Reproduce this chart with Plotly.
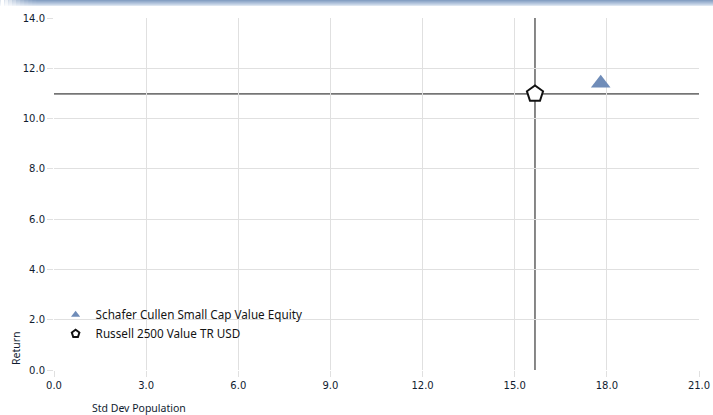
import plotly.graph_objects as go

# Risk / return statistics
fund_name = "Schafer Cullen Small Cap Value Equity"
bench_name = "Russell 2500 Value TR USD"
fund_std = [17.8]
fund_ret = [11.4]
bench_std = [15.66]
bench_ret = [10.98]

x_ticks = [0, 3, 6, 9, 12, 15, 18, 21]
y_ticks = [0, 2, 4, 6, 8, 10, 12, 14]

PW, PH = 645.4, 352.0  # plot area size in px

fig = go.Figure()

# Small legend-key markers sit underneath the full-size markers
fig.add_trace(go.Scatter(
    x=fund_std, y=fund_ret, mode="markers", name=fund_name,
    marker=dict(symbol="triangle-up", size=8, color="#6f8cb8", line=dict(width=0)),
))
fig.add_trace(go.Scatter(
    x=bench_std, y=bench_ret, mode="markers", name=bench_name,
    marker=dict(symbol="pentagon", size=8, color="white",
                line=dict(width=2, color="#111111")),
))
fig.add_trace(go.Scatter(
    x=fund_std, y=fund_ret, mode="markers", showlegend=False, hoverinfo="skip",
    marker=dict(symbol="triangle-up", size=17, color="#6f8cb8", line=dict(width=0)),
))
fig.add_trace(go.Scatter(
    x=bench_std, y=bench_ret, mode="markers", showlegend=False, hoverinfo="skip",
    marker=dict(symbol="pentagon", size=17, color="white",
                line=dict(width=2, color="#111111")),
))

# Benchmark crosshair
fig.add_shape(type="line", xref="x", yref="y", x0=bench_std[0], x1=bench_std[0],
              y0=0, y1=14, line=dict(color="#111111", width=1), layer="below")
fig.add_shape(type="line", xref="x", yref="y", x0=0, x1=21,
              y0=bench_ret[0], y1=bench_ret[0], line=dict(color="#111111", width=1), layer="below")

# Header band across the top
band_colors = ["#86a0c3", "#95adcc", "#a5b9d5", "#b5c6dd", "#c6d4e6", "#dce5f0"]
for i, c in enumerate(band_colors):
    fig.add_shape(type="rect", xref="paper", yref="paper",
                  x0=-53.6 / PW, x1=(713 - 53.6) / PW,
                  y0=1 + (18 - i - 1) / PH, y1=1 + (18 - i) / PH,
                  line=dict(width=0), fillcolor=c, layer="below")
# fade the band into white on the left edge
fade = [1.0, 0.85, 0.7, 0.55, 0.4, 0.28, 0.18, 0.1, 0.04]
for j, a in enumerate(fade):
    fig.add_shape(type="rect", xref="paper", yref="paper",
                  x0=(-53.6 + j * 4) / PW, x1=(-53.6 + (j + 1) * 4) / PW,
                  y0=1 + 11 / PH, y1=1 + 18 / PH,
                  line=dict(width=0), fillcolor=f"rgba(255,255,255,{a})", layer="below")

tick_font = dict(family="DejaVu Sans", size=10, color="#101c30")

fig.update_xaxes(
    range=[0, 21], tickvals=x_ticks, ticktext=[f"{v:.1f}" for v in x_ticks],
    showgrid=True, gridcolor="#e0e0e0", gridwidth=1,
    ticks="outside", ticklen=6, tickcolor="#e0e0e0",
    zeroline=False, showline=False, tickfont=tick_font, automargin=False,
)
fig.update_yaxes(
    range=[0, 14], tickvals=y_ticks, ticktext=[f"{v:.1f}" for v in y_ticks],
    showgrid=True, gridcolor="#e0e0e0", gridwidth=1,
    ticks="outside", ticklen=6, tickcolor="#e0e0e0",
    zeroline=False, showline=False, tickfont=tick_font, automargin=False,
)

fig.add_annotation(text="Return", xref="paper", yref="paper",
                   x=-38 / PW, y=3 / PH, xanchor="center", yanchor="bottom",
                   textangle=-90, showarrow=False,
                   font=dict(family="Noto Sans", size=10.5, color="#101c30"))
fig.add_annotation(text="Std Dev Population", xref="paper", yref="paper",
                   x=(90 - 53.6) / PW, y=-38 / PH, xanchor="left", yanchor="middle",
                   showarrow=False,
                   font=dict(family="Noto Sans", size=10.5, color="#101c30"))

fig.update_layout(
    width=713, height=415,
    margin=dict(l=53.6, r=14, t=18, b=45, autoexpand=False),
    paper_bgcolor="white", plot_bgcolor="white",
    showlegend=True,
    legend=dict(x=0.0025, y=0.198, xanchor="left", yanchor="top",
                bgcolor="rgba(0,0,0,0)",
                font=dict(family="Noto Sans", size=11.7, color="#141414"),
                tracegroupgap=0, itemwidth=30),
)

fig.write_html("out.html")
